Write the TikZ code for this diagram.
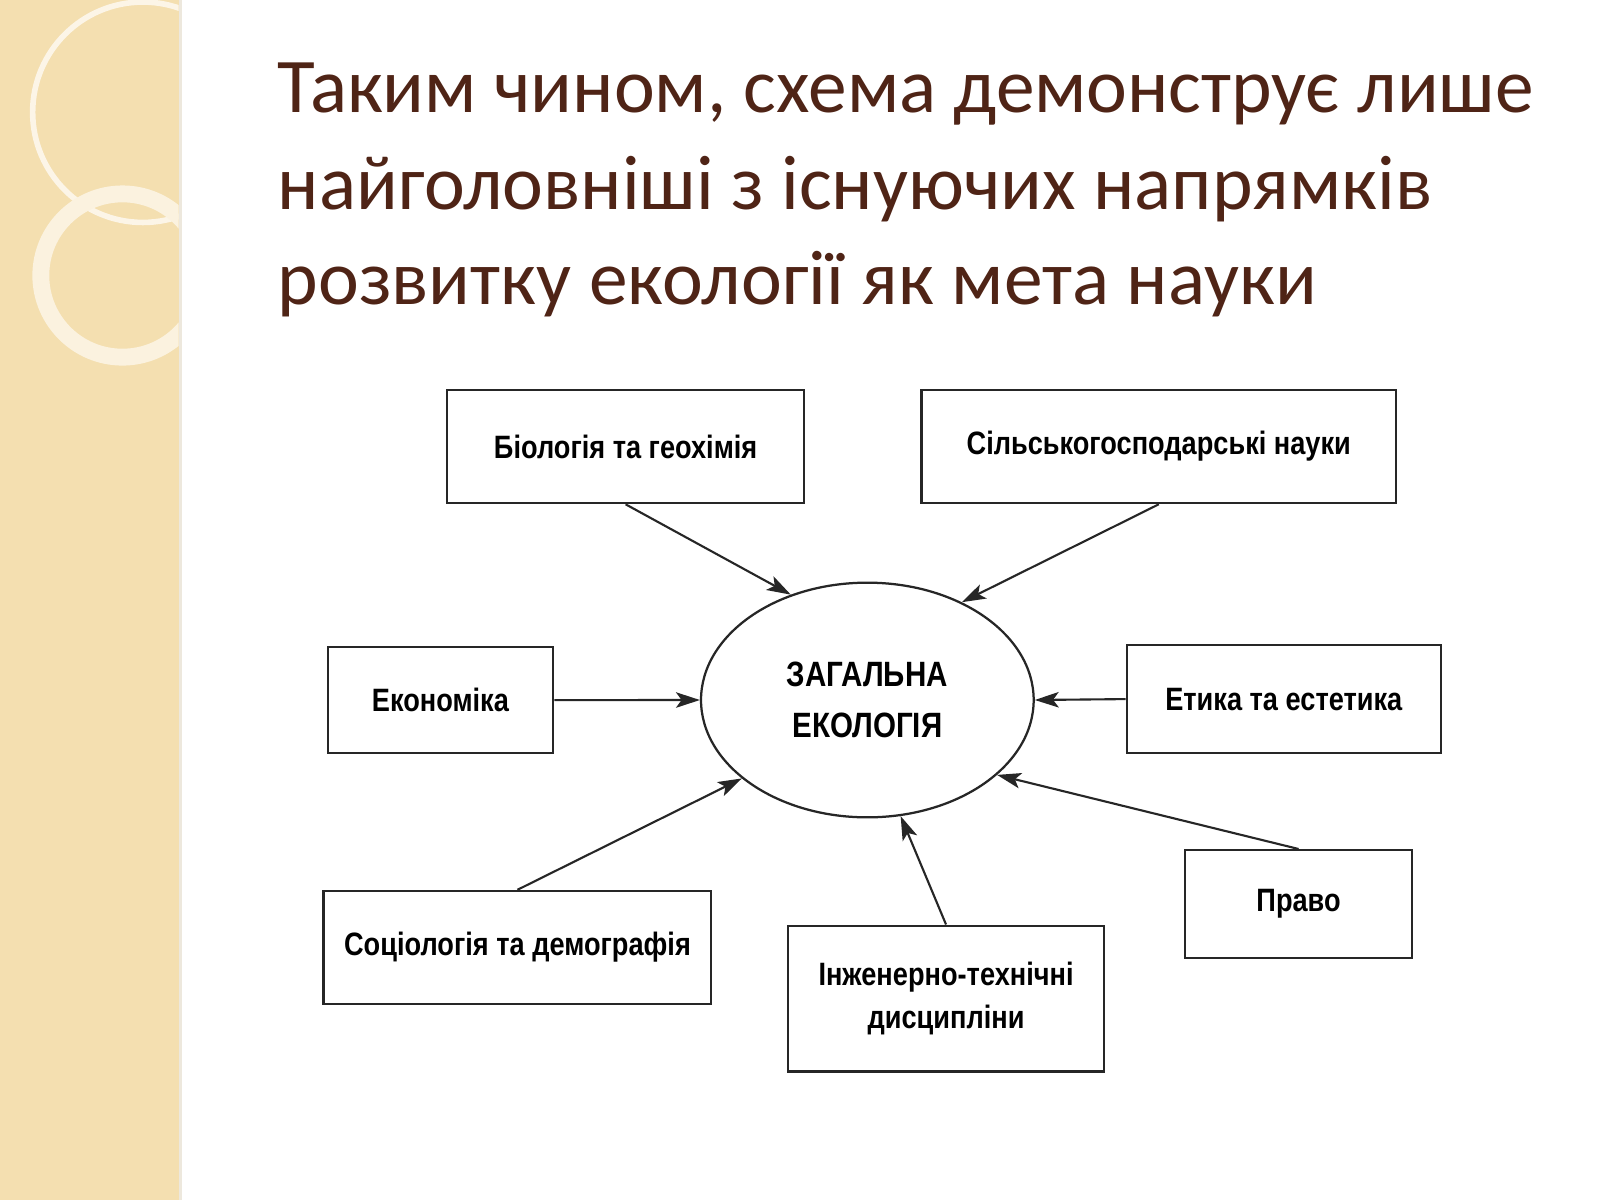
\documentclass[tikz,border=0pt]{standalone}
\usepackage{fontspec}
\setmainfont{Carlito}
\newfontfamily\boxfont[FakeStretch=0.84]{Liberation Sans}
\usetikzlibrary{shapes.geometric,arrows.meta}
\definecolor{titlec}{HTML}{4F2416}
\definecolor{panel}{HTML}{F4DFB0}
\newlength{\ux}\setlength{\ux}{0.0255cm}
\tikzset{
  bx/.style={draw=black!85,line width=1.6pt,fill=white,font=\boxfont\bfseries\fontsize{23}{30}\selectfont,align=center,anchor=north west,inner sep=0pt},
  arr/.style={-{Stealth[length=17pt,width=11pt,inset=4pt]},line width=1.5pt,black!85},
  ttl/.style={font=\fontsize{55}{66}\selectfont,text=titlec,anchor=base west,inner sep=0pt}
}
\begin{document}
\begin{tikzpicture}[x=\ux,y=-\ux]
\useasboundingbox (0,0) rectangle (1568,1176);
\fill[white] (0,0) rectangle (1568,1176);
\fill[panel] (0,0) rectangle (175,1176);
\begin{scope}
\clip (0,0) rectangle (175,1176);
\draw[white!70!panel,line width=4pt] (140,110) circle (108);
\draw[white!60!panel,line width=12pt] (120,270) circle (80);
\end{scope}
\fill[panel!80!black!30] (175,0) rectangle (178,1176);
\node[ttl] (t1) at (272,110) {Таким чином, схема демонструє лише};
\node[ttl] (t2) at (272,205) {найголовніші з існуючих напрямків};
\node[ttl] (t3) at (272,298) {розвитку екології як мета науки};
\node[bx,minimum width=350\ux,minimum height=111\ux] (bio) at (437,381) {Біологія та геохімія};
\node[bx,minimum width=465\ux,minimum height=111\ux] (sil) at (902,381) {Сільськогосподарські науки};
\node[bx,minimum width=221\ux,minimum height=104\ux] (eco) at (320,633) {Економіка};
\node[bx,minimum width=308\ux,minimum height=106\ux] (eth) at (1103,631) {Етика та естетика};
\node[bx,minimum width=380\ux,minimum height=111\ux] (soc) at (316,872) {Соціологія та демографія};
\node[bx,minimum width=310\ux,minimum height=143\ux] (inz) at (771,906) {Інженерно-технічні\\дисципліни};
\node[bx,minimum width=223\ux,minimum height=106\ux] (pra) at (1160,832) {Право};
\node[draw=black!85,line width=1.6pt,ellipse,minimum width=326\ux,minimum height=230\ux,inner sep=0pt,font=\boxfont\bfseries\fontsize{25}{36}\selectfont,align=center] (ge) at (850,686) {ЗАГАЛЬНА\\ЕКОЛОГІЯ};
\draw[arr] (bio.south) -- (ge.126);
\draw[arr] (sil.south) -- (ge.46);
\draw[arr] (eco.east) -- (ge.180);
\draw[arr] (eth.west) -- (ge.0);
\draw[arr] (soc.north) -- (ge.212);
\draw[arr] (inz.north) -- (ge.286);
\draw[arr] (pra.north) -- (ge.330);
\end{tikzpicture}
\end{document}
